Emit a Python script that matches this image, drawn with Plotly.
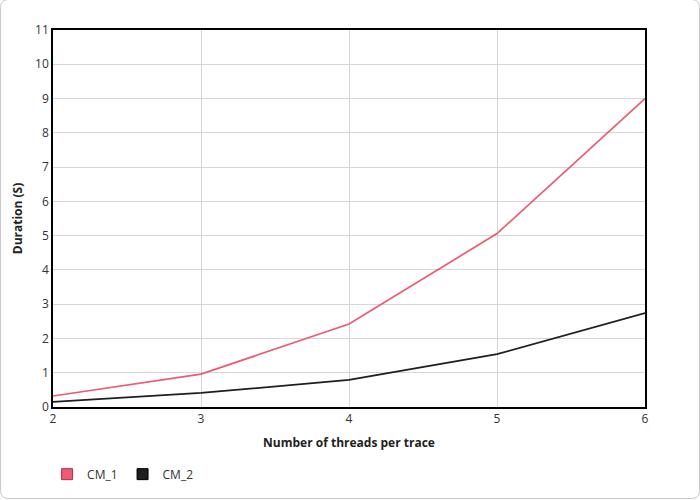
import plotly.graph_objects as go

threads = [2, 3, 4, 5, 6]
cm_1 = [0.32, 0.96, 2.42, 5.06, 9.0]
cm_2 = [0.15, 0.41, 0.79, 1.54, 2.74]
y_ticks = list(range(0, 12))

pink = "#ec5a74"
dark = "#1e1e1e"
font = "Open Sans"

fig = go.Figure()
fig.add_trace(go.Scatter(x=threads, y=cm_1, mode="lines", line=dict(color=pink, width=1.7),
                         name="CM_1", showlegend=False))
fig.add_trace(go.Scatter(x=threads, y=cm_2, mode="lines", line=dict(color=dark, width=1.8),
                         name="CM_2", showlegend=False))
fig.add_trace(go.Scatter(x=[None], y=[None], mode="markers", name="CM_1",
                         marker=dict(symbol="square", size=11, color=pink, line=dict(color="#b03048", width=1))))
fig.add_trace(go.Scatter(x=[None], y=[None], mode="markers", name="CM_2",
                         marker=dict(symbol="square", size=11, color=dark, line=dict(color="#000000", width=1))))

W, H = 700, 500
ml, mr, mt, mb = 53, 55, 30, 92
r = 8
x0, x1 = -ml + 0.5, W - ml - 0.5
y0, y1 = -mb + 0.5, (H - mb) - 0.5
path = (f"M {x0+r},{y1} L {x1-r},{y1} Q {x1},{y1} {x1},{y1-r} L {x1},{y0+r} Q {x1},{y0} {x1-r},{y0} "
        f"L {x0+r},{y0} Q {x0},{y0} {x0},{y0+r} L {x0},{y1-r} Q {x0},{y1} {x0+r},{y1} Z")

fig.update_layout(
    width=W, height=H,
    margin=dict(l=ml, r=mr, t=mt, b=mb),
    paper_bgcolor="white", plot_bgcolor="white",
    font=dict(family=font, size=12, color="#333333"),
    legend=dict(orientation="h", x=-0.01, xanchor="left", y=-0.175, yanchor="middle",
                font=dict(size=12, color="#333333"), itemwidth=30, tracegroupgap=0),
    shapes=[dict(type="path", xref="paper", yref="paper", xsizemode="pixel", ysizemode="pixel",
                 xanchor=0, yanchor=0, path=path, line=dict(color="#c8c8c8", width=1), layer="below")],
)
fig.update_xaxes(range=[2, 6], tickvals=threads, showgrid=True, gridcolor="#d6d6d6",
                 showline=True, linecolor="black", linewidth=1.5, mirror=True, zeroline=False,
                 ticks="", tickfont=dict(size=12, color="#333333"),
                 title=dict(text="<b>Number of threads per trace</b>", font=dict(size=12, color="#222222"), standoff=12))
fig.update_yaxes(range=[0, 11], tickvals=y_ticks, showgrid=True, gridcolor="#d6d6d6",
                 showline=True, linecolor="black", linewidth=1.5, mirror=True, zeroline=False,
                 ticks="", tickfont=dict(size=12, color="#333333"),
                 title=dict(text="<b>Duration (S)</b>", font=dict(size=12, color="#222222"), standoff=10))

fig.write_html("out.html", config={"displayModeBar": False},
               post_script="document.body.style.margin='0';")
